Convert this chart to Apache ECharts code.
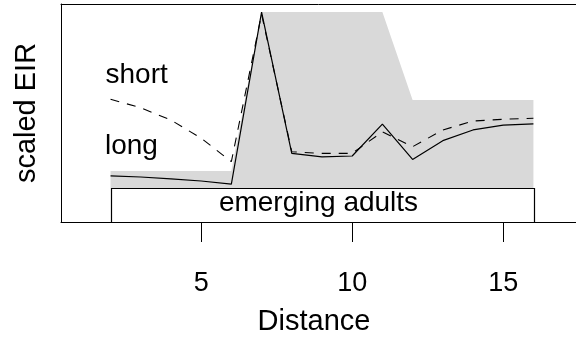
<!DOCTYPE html>
<html>
<head>
<meta charset="utf-8">
<script src="https://cdn.jsdelivr.net/npm/echarts@6/dist/echarts.min.js"></script>
<style>html,body{margin:0;padding:0;background:#fff}#c{width:576px;height:341px}</style>
</head>
<body>
<div id="c"></div>
<script>
// Data
const distance = [2,3,4,5,6,7,8,9,10,11,12,13,14,15,16];
const longEIR  = [18.9,18.3,17.4,16.3,14.8,100,30.0,28.3,28.7,44.5,27.0,36.3,41.6,44.0,44.6];
const shortEIR = [56.8,52.6,46.5,37.5,25.9,99,30.8,30.0,30.0,40.7,33.3,41.6,46.0,46.9,47.4];
const envX     = [2,6,7,11,12,16];
const envUpper = [21.3,21.3,100,100,56.4,56.4];
const envLower = 12.8;
const adultsX  = [2,16];
const adultsY  = [-4,12.8];
const xTicks   = [5,10,15];

const FONT = 'Liberation Sans';
const XMIN = 0.36, XMAX = 17.41;
const chart = echarts.init(document.getElementById('c'), null, {renderer:'canvas'});
chart.setOption({
  animation:false,
  grid:{left:61, top:4, right:0, bottom:119, show:false},
  xAxis:[
   {type:'value', min:XMIN, max:XMAX, position:'bottom',
    axisLine:{show:true, onZero:false, lineStyle:{color:'#000', width:1}},
    axisTick:{show:true, customValues:xTicks, length:20, lineStyle:{color:'#000', width:1}},
    axisLabel:{customValues:xTicks, fontFamily:FONT, fontSize:27, color:'#000', margin:48},
    splitLine:{show:false}},
   {type:'value', min:XMIN, max:XMAX, position:'top',
    axisLine:{show:true, onZero:false, lineStyle:{color:'#000', width:1}},
    axisTick:{show:false}, axisLabel:{show:false}, splitLine:{show:false}}
  ],
  yAxis:{type:'value', min:-4, max:104, position:'left',
    axisLine:{show:true, onZero:false, lineStyle:{color:'#000', width:1}},
    axisTick:{show:false}, axisLabel:{show:false}, splitLine:{show:false}},
  series:[
    {type:'custom', z:1, silent:true, data:[[envX[0], envLower]],
     renderItem:function(params, api){
       const pts = envX.map((x,i)=>api.coord([x, envUpper[i]]));
       for (let i=envX.length-1;i>=0;i--) pts.push(api.coord([envX[i], envLower]));
       return {type:'polygon', shape:{points:pts}, style:{fill:'#d9d9d9', stroke:null}};
     }},
    {type:'custom', z:2, silent:true, data:[[adultsX[0], adultsY[0]]],
     renderItem:function(params, api){
       const p0 = api.coord([adultsX[0], adultsY[1]]);
       const p1 = api.coord([adultsX[1], adultsY[0]]);
       return {type:'rect', shape:{x:Math.round(p0[0])+0.5, y:Math.round(p0[1])+0.5, width:Math.round(p1[0]-p0[0]), height:Math.round(p1[1]-p0[1])},
         style:{fill:'#fff', stroke:'#000', lineWidth:1.2}};
     }},
    {type:'line', name:'short', z:3, data:distance.map((d,i)=>[d, shortEIR[i]]), showSymbol:false, symbol:'none',
     lineStyle:{color:'#000', width:1.1, type:[9,8]}},
    {type:'line', name:'long', z:4, data:distance.map((d,i)=>[d, longEIR[i]]), showSymbol:false, symbol:'none',
     lineStyle:{color:'#000', width:1.2}}
  ],
  graphic:[
    {type:'text', x:105.5, y:75.5, style:{text:'short', font:'28px '+FONT, fill:'#000', textAlign:'left', textVerticalAlign:'middle'}},
    {type:'text', x:105, y:146.5, style:{text:'long', font:'28px '+FONT, fill:'#000', textAlign:'left', textVerticalAlign:'middle'}},
    {type:'text', x:318.5, y:203, z:10, style:{text:'emerging adults', font:'28px '+FONT, fill:'#000', textAlign:'center', textVerticalAlign:'middle'}},
    {type:'text', x:314, y:322, style:{text:'Distance', font:'29px '+FONT, fill:'#000', textAlign:'center', textVerticalAlign:'middle'}},
    {type:'text', x:27, y:113, rotation:Math.PI/2, style:{text:'scaled EIR', font:'29px '+FONT, fill:'#000', textAlign:'center', textVerticalAlign:'middle'}}
  ]
});
</script>
</body>
</html>
